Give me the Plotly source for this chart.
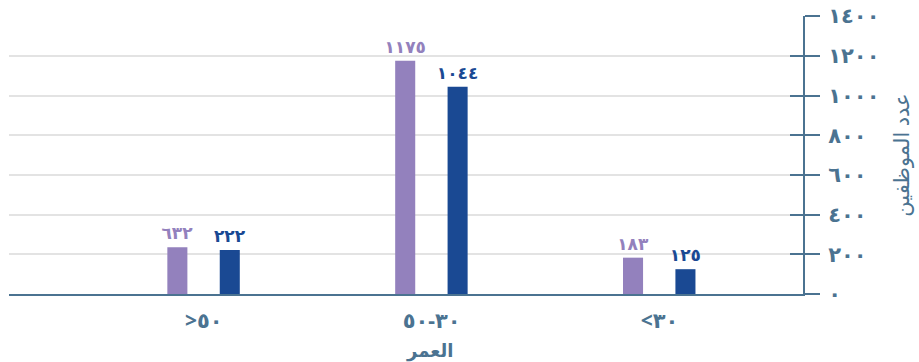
import plotly.graph_objects as go

# Categories in visual order (left -> right)
categories = [">٥٠", "٣٠-٥٠", "<٣٠"]
series_a_name = "A"
series_a_values = [236, 1175, 183]
series_a_labels = ["٦٣٢", "١١٧٥", "١٨٣"]
series_b_name = "B"
series_b_values = [222, 1044, 125]
series_b_labels = ["٢٢٢", "١٠٤٤", "١٢٥"]
y_tickvals = [0, 200, 400, 600, 800, 1000, 1200, 1400]
y_ticktext = ["٠", "٢٠٠", "٤٠٠", "٦٠٠", "٨٠٠", "١٠٠٠", "١٢٠٠", "١٤٠٠"]
y_title = "عدد الموظفين"
x_title = "العمر"

PURPLE = "#9381bd"
BLUE = "#1a4993"
STEEL = "#4b7391"
GRID = "#e3e3e3"
FONT = "Noto Sans, DejaVu Sans, sans-serif"

fig = go.Figure()
fig.add_trace(go.Bar(
    x=categories, y=series_a_values, name=series_a_name,
    marker=dict(color=PURPLE, line=dict(width=0)),
    width=0.088, offset=-0.160,
    text=series_a_labels, textposition="outside", cliponaxis=False,
    constraintext="none",
    textfont=dict(color=PURPLE, size=17, family=FONT, weight="bold"),
))
fig.add_trace(go.Bar(
    x=categories, y=series_b_values, name=series_b_name,
    marker=dict(color=BLUE, line=dict(width=0)),
    width=0.088, offset=0.070,
    text=series_b_labels, textposition="outside", cliponaxis=False,
    constraintext="none",
    textfont=dict(color=BLUE, size=17, family=FONT, weight="bold"),
    yaxis="y2",
))

fig.update_layout(
    width=919, height=362,
    margin=dict(l=9, r=116, t=16, b=68, autoexpand=False),
    paper_bgcolor="white", plot_bgcolor="white",
    showlegend=False,
    barmode="overlay",
    font=dict(family=FONT, color=STEEL),
    xaxis=dict(
        type="category", range=[-0.855, 2.63],
        showline=True, linecolor=STEEL, linewidth=2,
        ticks="", showgrid=False, automargin=False,
        ticklabelstandoff=7,
        tickfont=dict(size=21, color=STEEL, family=FONT, weight="bold"),
    ),
    yaxis=dict(
        side="right", range=[0, 1400.5], automargin=False,
        tickvals=y_tickvals, ticktext=y_ticktext,
        showline=True, linecolor=STEEL, linewidth=2,
        ticks="outside", ticklen=15, tickwidth=2, tickcolor=STEEL,
        ticklabelstandoff=4,
        showgrid=True, gridcolor=GRID, gridwidth=2, zeroline=False,
        tickfont=dict(size=21, color=STEEL, family=FONT, weight="bold"),
        title=dict(text=y_title, standoff=16,
                   font=dict(size=21, color=STEEL, family=FONT)),
    ),
    yaxis2=dict(
        overlaying="y", side="right", anchor="x", range=[0, 1400.5],
        automargin=False,
        tickvals=y_tickvals, showticklabels=False,
        ticks="inside", ticklen=13, tickwidth=2, tickcolor=STEEL,
        showgrid=False, showline=False, zeroline=False,
    ),
    annotations=[dict(
        text=x_title, xref="paper", yref="paper", x=0.529, y=-0.2,
        xanchor="center", yanchor="middle", showarrow=False,
        font=dict(size=18, color=STEEL, family=FONT, weight="bold"),
    )],
)

fig.write_html("out.html")
